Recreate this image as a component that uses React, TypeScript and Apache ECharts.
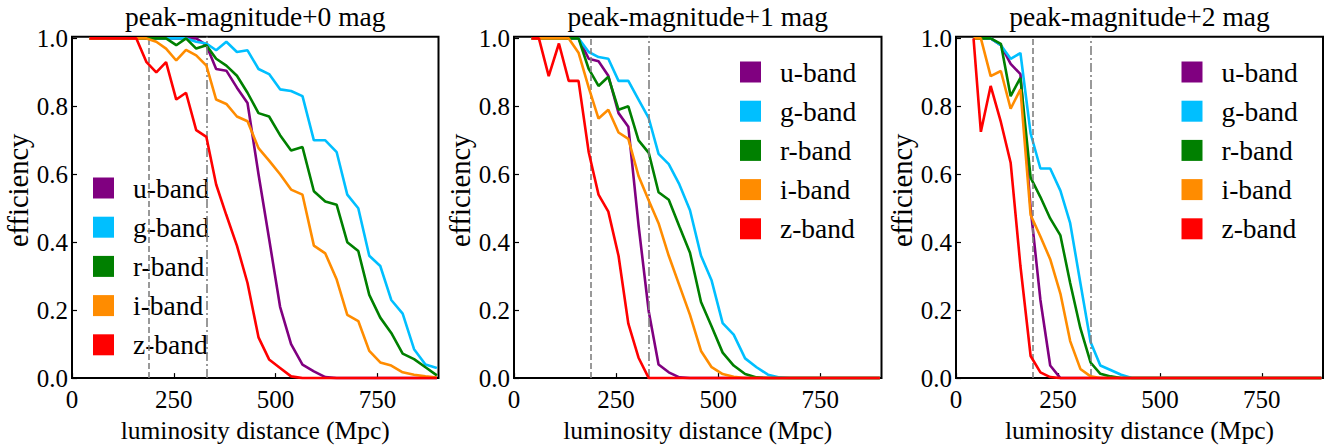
import React, { useEffect, useRef } from 'react';
import * as echarts from 'echarts';

// luminosity distance grid (Mpc)
const distances = [43, 61, 85, 110, 134, 158, 183, 207, 231, 256, 280, 305, 330, 354, 379, 405, 431, 458, 484, 511, 538, 566, 594, 622, 650, 676, 703, 730, 757, 784, 812, 840, 868, 896];

const bandNames = ['u-band', 'g-band', 'r-band', 'i-band', 'z-band'];
const bandColors = ['#800080', '#00BFFF', '#008000', '#FF8C00', '#FF0000'];
const panelTitles = ['peak-magnitude+0 mag', 'peak-magnitude+1 mag', 'peak-magnitude+2 mag'];
const refLines = [189, 330];

// panel 1: peak-magnitude + 0 mag
const p0u = [1, 1, 1, 1, 1, 1, 1, 1, 1, 1, 1, 1, 0.98, 0.91, 0.905, 0.855, 0.81, 0.6, 0.41, 0.21, 0.1, 0.04, 0.02, 0.003, 0, 0, 0, 0, 0, 0, 0, 0, 0, 0];
const p0g = [1, 1, 1, 1, 1, 1, 1, 1, 1, 1, 1, 0.99, 0.985, 0.965, 0.99, 0.96, 0.965, 0.91, 0.895, 0.85, 0.845, 0.83, 0.7, 0.7, 0.665, 0.54, 0.5, 0.36, 0.33, 0.23, 0.19, 0.085, 0.04, 0.03];
const p0r = [1, 1, 1, 1, 1, 1, 1, 1, 1, 0.98, 1, 0.97, 0.98, 0.94, 0.92, 0.89, 0.84, 0.78, 0.77, 0.715, 0.67, 0.68, 0.55, 0.52, 0.51, 0.4, 0.374, 0.245, 0.178, 0.133, 0.072, 0.056, 0.032, 0.008];
const p0i = [1, 1, 1, 1, 1, 1, 1, 0.99, 0.97, 0.935, 0.966, 0.95, 0.92, 0.82, 0.807, 0.77, 0.756, 0.677, 0.64, 0.6, 0.555, 0.54, 0.39, 0.367, 0.29, 0.186, 0.168, 0.08, 0.046, 0.037, 0.017, 0.01, 0.005, 0.002];
const p0z = [1, 1, 1, 1, 1, 1, 0.93, 0.9, 0.93, 0.82, 0.84, 0.73, 0.71, 0.57, 0.48, 0.39, 0.28, 0.12, 0.055, 0.03, 0.005, 0, 0, 0, 0, 0, 0, 0, 0, 0, 0, 0, 0, 0];

// panel 2: peak-magnitude + 1 mag
const p1u = [1, 1, 1, 1, 1, 1, 0.94, 0.933, 0.89, 0.78, 0.74, 0.45, 0.196, 0.04, 0.017, 0.002, 0, 0, 0, 0, 0, 0, 0, 0, 0, 0, 0, 0, 0, 0, 0, 0, 0, 0];
const p1g = [1, 1, 1, 1, 1, 1, 0.96, 0.945, 0.94, 0.875, 0.875, 0.82, 0.765, 0.66, 0.63, 0.57, 0.494, 0.36, 0.287, 0.162, 0.128, 0.058, 0.032, 0.01, 0.002, 0, 0, 0, 0, 0, 0, 0, 0, 0];
const p1r = [1, 1, 1, 1, 1, 1, 0.91, 0.86, 0.887, 0.79, 0.8, 0.7, 0.663, 0.547, 0.525, 0.446, 0.369, 0.224, 0.152, 0.075, 0.037, 0.012, 0.002, 0, 0, 0, 0, 0, 0, 0, 0, 0, 0, 0];
const p1i = [1, 1, 1, 1, 1, 0.958, 0.855, 0.764, 0.79, 0.723, 0.704, 0.595, 0.523, 0.456, 0.36, 0.273, 0.186, 0.08, 0.032, 0.012, 0.004, 0, 0, 0, 0, 0, 0, 0, 0, 0, 0, 0, 0, 0];
const p1z = [1, 1, 0.889, 0.985, 0.875, 0.875, 0.665, 0.54, 0.49, 0.36, 0.16, 0.06, 0, 0, 0, 0, 0, 0, 0, 0, 0, 0, 0, 0, 0, 0, 0, 0, 0, 0, 0, 0, 0, 0];

// panel 3: peak-magnitude + 2 mag
const p2u = [1, 1, 1, 0.98, 0.925, 0.895, 0.5, 0.23, 0.037, 0, 0, 0, 0, 0, 0, 0, 0, 0, 0, 0, 0, 0, 0, 0, 0, 0, 0, 0, 0, 0, 0, 0, 0, 0];
const p2g = [1, 1, 1, 0.98, 0.94, 0.957, 0.72, 0.617, 0.617, 0.552, 0.456, 0.28, 0.106, 0.037, 0.024, 0.01, 0, 0, 0, 0, 0, 0, 0, 0, 0, 0, 0, 0, 0, 0, 0, 0, 0, 0];
const p2r = [1, 1, 1, 0.984, 0.83, 0.884, 0.59, 0.533, 0.47, 0.42, 0.28, 0.147, 0.046, 0.0125, 0.005, 0, 0, 0, 0, 0, 0, 0, 0, 0, 0, 0, 0, 0, 0, 0, 0, 0, 0, 0];
const p2i = [1, 1, 0.889, 0.904, 0.793, 0.85, 0.48, 0.417, 0.35, 0.249, 0.109, 0.027, 0.005, 0, 0, 0, 0, 0, 0, 0, 0, 0, 0, 0, 0, 0, 0, 0, 0, 0, 0, 0, 0, 0];
const p2z = [1, 0.725, 0.86, 0.754, 0.634, 0.33, 0.065, 0.017, 0.003, 0, 0, 0, 0, 0, 0, 0, 0, 0, 0, 0, 0, 0, 0, 0, 0, 0, 0, 0, 0, 0, 0, 0, 0, 0];

const panels = [
  [p0u, p0g, p0r, p0i, p0z],
  [p1u, p1g, p1r, p1i, p1z],
  [p2u, p2g, p2r, p2i, p2z],
];

const FONT = 'Liberation Serif';
const gridLefts = [72, 514, 956];
const gridWidths = [366.5, 367.5, 367];
const gridTop = 36.7;
const gridHeight = 346;
const legendPos = [
  { left: 93, top: 174 },
  { left: 740, top: 58 },
  { left: 1181.5, top: 58 },
];

export default function App() {
  const ref = useRef<HTMLDivElement>(null);
  useEffect(() => {
    if (!ref.current) return;
    const chart = echarts.init(ref.current, undefined, { renderer: 'svg' });
    const grids = panels.map((_, i) => ({
      left: gridLefts[i],
      top: gridTop,
      width: gridWidths[i],
      height: gridHeight,
      show: true,
      borderColor: '#000',
      borderWidth: 2,
      backgroundColor: 'transparent',
      containLabel: false,
    }));
    const xAxes = panels.map((_, i) => ({
      type: 'value',
      gridIndex: i,
      min: 0,
      max: 900,
      interval: 250,
      axisLine: { show: false },
      axisTick: { show: true, inside: true, length: 5, lineStyle: { color: '#000', width: 1.2 } },
      axisLabel: { fontSize: 25, color: '#000', fontFamily: FONT, margin: 9, showMaxLabel: false },
      splitLine: { show: false },
      name: 'luminosity distance (Mpc)',
      nameLocation: 'middle',
      nameGap: 34,
      nameTextStyle: { fontSize: 25.5, color: '#000', fontFamily: FONT },
    }));
    const yAxes = panels.map((_, i) => ({
      type: 'value',
      gridIndex: i,
      min: 0,
      max: 1.005,
      interval: 0.2,
      axisLine: { show: false },
      axisTick: { show: true, inside: true, length: 5, lineStyle: { color: '#000', width: 1.2 } },
      axisLabel: {
        fontSize: 25,
        color: '#000',
        fontFamily: FONT,
        margin: 4,
        showMaxLabel: false,
        formatter: (v: number) => v.toFixed(1),
      },
      splitLine: { show: false },
      name: 'efficiency',
      nameLocation: 'middle',
      nameRotate: 90,
      nameGap: 38,
      nameTextStyle: { fontSize: 28.5, color: '#000', fontFamily: FONT, padding: [0, 0, 0, 34] },
    }));
    const series: any[] = [];
    panels.forEach((bands, p) => {
      bands.forEach((vals, b) => {
        const s: any = {
          type: 'line',
          name: bandNames[b],
          xAxisIndex: p,
          yAxisIndex: p,
          data: distances.map((d, k) => [d, vals[k]]),
          showSymbol: false,
          symbol: 'none',
          lineStyle: { width: 2.6, color: bandColors[b] },
          itemStyle: { color: bandColors[b] },
          z: 2 + b,
        };
        if (b === 0) {
          s.markLine = {
            silent: true,
            symbol: ['none', 'none'],
            label: { show: false },
            animation: false,
            data: [
              { xAxis: refLines[0], lineStyle: { color: '#808080', width: 1.6, type: [6, 3] } },
              { xAxis: refLines[1], lineStyle: { color: '#808080', width: 1.6, type: [9, 3, 2, 3] } },
            ],
          };
        }
        series.push(s);
      });
    });
    const legends = legendPos.map((pos) => ({
      left: pos.left,
      top: pos.top,
      padding: 0,
      orient: 'vertical',
      icon: 'rect',
      itemWidth: 21,
      itemHeight: 21,
      itemGap: 11.2,
      selectedMode: false,
      itemStyle: { borderWidth: 0 },
      textStyle: { fontSize: 27.5, color: '#000', fontFamily: FONT, padding: [0, 0, 0, 14] },
      data: bandNames,
    }));
    const titles = panelTitles.map((t, i) => ({
      text: t,
      left: gridLefts[i] + gridWidths[i] / 2,
      top: 2,
      padding: 0,
      textAlign: 'center',
      textStyle: { fontSize: 27.5, fontWeight: 'normal', color: '#000', fontFamily: FONT },
    }));
    chart.setOption({
      animation: false,
      backgroundColor: '#fff',
      title: titles,
      legend: legends,
      grid: grids,
      xAxis: xAxes,
      yAxis: yAxes,
      series,
    });
    return () => chart.dispose();
  }, []);
  return (
    <div
      ref={ref}
      style={{ position: 'fixed', left: 0, top: 0, width: 1333, height: 448 }}
    />
  );
}
